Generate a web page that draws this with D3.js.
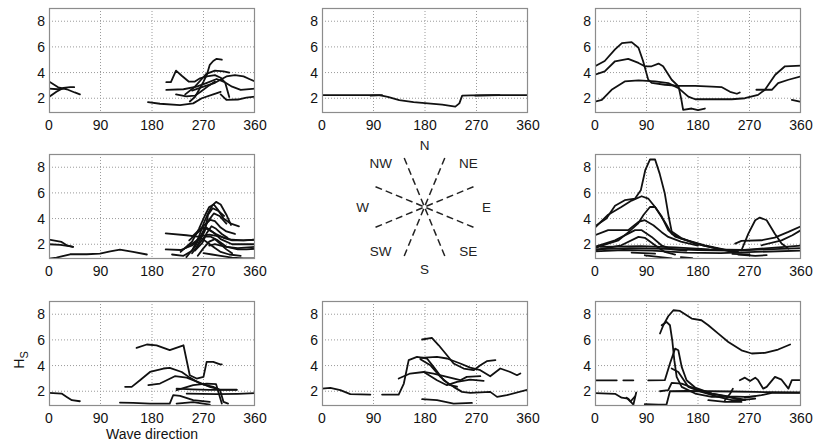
<!DOCTYPE html>
<html><head><meta charset="utf-8">
<script src="https://cdn.jsdelivr.net/npm/d3@7"></script>
<style>body{margin:0;background:#fff}svg{display:block}text{font-family:"Liberation Sans",Arial,Helvetica,sans-serif}</style>
</head><body><svg id="c" width="815" height="446"></svg>
<script>
const xTicks=[0,90,180,270,360];
const yTicks=[2,4,6,8];
const xDomain=[0,360];
const yDomain=[0.85,9.03];
const compassLabels=[["N",0],["NE",45],["E",90],["SE",135],["S",180],["SW",225],["W",270],["NW",315]];
const sectorBounds=[22.5,67.5,112.5,157.5];

const panelNW=[
 [[0,3.3],[16,2.85],[31,2.7],[45,2.45],[54,2.3]],
 [[0,2.1],[13,2.5],[25,2.8],[37,2.86],[44,2.86]],
 [[0,2.75],[15,2.7],[25,2.75]],
 [[205,3.25],[213,3.25],[222,4.15],[232,3.75],[244,3.3],[255,3.3],[264,3.55],[276,3.7],[290,3.8],[300,3.6],[308,3.2],[315,2.1]],
 [[246,1.75],[255,2.1],[264,2.8],[270,3.3],[276,3.85],[281,4.6],[287,4.9],[293,5.07],[302,5.0]],
 [[238,2.3],[255,2.9],[265,3.4],[275,3.9],[290,4.15],[305,4.1],[315,4.0]],
 [[250,2.6],[270,2.9],[290,3.2],[310,3.7],[325,3.8],[340,3.7],[350,3.5],[360,3.3]],
 [[205,2.65],[235,2.7],[258,2.9],[276,3.2],[293,3.5],[305,3.3],[320,2.9],[335,2.65],[360,2.75]],
 [[222,2.3],[240,2.15],[255,2.2],[265,2.5],[280,3.0],[290,3.3]],
 [[173,1.7],[194,1.57],[229,1.47],[252,1.6],[267,2.0],[287,2.3],[300,2.5]],
 [[300,2.3],[310,1.87],[330,1.9],[345,2.05],[360,2.13]]
];
const panelN=[
 [[0,2.25],[60,2.25],[100,2.25],[115,2.1],[135,1.85],[160,1.7],[180,1.62],[210,1.5],[233,1.35],[240,1.6],[245,2.2],[260,2.22],[300,2.25],[360,2.25]],
 [[85,2.2],[105,2.25]],
 [[268,2.2],[310,2.25]]
];
const panelNE=[
 [[0,4.5],[17,4.9],[35,5.8],[47,6.3],[64,6.37],[76,5.93],[84,4.9],[93,3.45],[99,3.2],[122,3.05],[146,2.97],[175,2.97],[204,2.9],[221,2.87],[236,2.5],[248,2.35],[253,2.45]],
 [[0,3.83],[17,4.1],[35,4.88],[58,5.07],[76,4.75],[87,4.49],[99,4.49],[111,4.7],[119,4.49],[134,3.44],[146,2.92],[151,1.87],[154,1.1],[169,1.2],[180,1.08],[192,1.2]],
 [[0,1.74],[12,1.87],[29,2.66],[52,3.31],[76,3.39],[105,3.31],[128,3.18],[146,2.79],[163,2.13],[175,1.92],[204,1.92],[239,1.92],[262,2.0],[285,2.26],[297,2.66],[315,3.83],[332,4.49],[360,4.54]],
 [[282,2.66],[309,2.66],[320,3.18],[338,3.44],[360,3.7]],
 [[344,1.87],[358,1.74]]
];
const panelW=[
 [[0,2.36],[22,2.18],[31,1.92],[42,1.8]],
 [[0,2.0],[20,1.95],[35,1.85],[42,1.8]],
 [[0,0.88],[13,0.96],[37,1.22],[66,1.22],[89,1.27],[107,1.45],[124,1.58],[147,1.4],[171,1.2]],
 [[204,2.85],[240,2.7],[260,2.6],[280,2.75],[300,2.6],[320,2.35],[340,2.3],[360,2.35]],
 [[204,1.6],[230,1.55],[250,1.9],[265,2.6],[275,3.3],[285,3.0],[300,2.4],[320,2.0],[360,2.0]],
 [[215,1.2],[235,1.1],[250,1.5],[262,2.6],[270,3.6],[278,4.4],[285,5.0],[292,5.3],[300,5.1],[310,4.3],[318,3.5]],
 [[230,1.4],[250,2.2],[262,3.2],[272,4.2],[280,4.9],[288,5.1],[295,4.7],[305,4.0],[318,3.6],[332,3.4]],
 [[240,1.0],[255,1.8],[268,2.9],[278,3.8],[288,4.4],[298,4.2],[310,3.6]],
 [[245,2.3],[260,2.9],[270,3.3],[280,3.1],[292,2.8],[305,2.5],[320,2.3],[340,2.3],[360,2.36]],
 [[250,1.3],[262,2.0],[272,2.6],[282,2.6],[295,2.3],[310,1.8],[330,1.7],[360,1.8]],
 [[235,1.6],[255,2.2],[265,2.5],[275,2.2],[290,1.7],[300,1.4],[315,1.2],[335,1.1]],
 [[260,1.1],[270,1.7],[280,2.2],[290,2.4],[300,2.0],[310,1.6],[320,1.3]],
 [[255,1.5],[268,2.1],[276,2.9],[284,3.4],[292,3.2],[302,2.8],[312,2.5]],
 [[250,2.6],[262,3.1],[274,3.6],[282,3.9],[290,3.8],[300,3.3],[310,3.0],[325,2.8]],
 [[270,1.3],[285,1.2],[300,1.1],[320,0.95],[340,0.9],[360,0.9]],
 [[280,1.9],[290,2.0],[300,1.9],[315,1.75],[330,1.6],[345,1.6],[360,1.65]],
 [[258,1.8],[266,2.5],[272,3.0],[278,4.3],[286,4.8],[296,4.6],[306,4.2]]
];
const panelE=[
 [[0,3.4],[20,4.0],[35,5.0],[52,5.43],[70,5.56],[80,6.2],[88,7.8],[96,8.6],[105,8.6],[113,7.5],[122,5.95],[129,4.1],[134,3.0],[150,2.5],[175,2.05],[200,1.8],[220,1.6],[240,1.4]],
 [[0,3.3],[23,4.3],[46,4.9],[64,5.4],[81.5,5.74],[93,5.56],[105,4.9],[122,3.74],[134,2.83],[151,2.44],[192,1.92],[233,1.53]],
 [[0,1.7],[20,2.0],[41,2.3],[60,3.0],[75,3.6],[85,4.3],[96,4.9],[105,4.9],[116,4.2],[128,3.1],[140,2.6],[160,2.3],[190,1.9],[220,1.6],[250,1.4]],
 [[0,2.7],[23,3.1],[58,3.1],[76,3.74],[87,3.87],[102,3.48],[116,2.96],[128,2.57],[150,2.2],[180,1.9]],
 [[0,1.8],[35,2.3],[70,3.1],[81,3.1],[99,2.57],[116,1.92],[135,1.6],[160,1.5]],
 [[0,1.53],[46,1.92],[76,2.57],[87,2.5],[105,1.92],[122,1.4],[140,1.2]],
 [[256,1.53],[268,2.83],[280,3.87],[288,4.08],[300,3.87],[314,2.83],[326,2.05],[338,1.66]],
 [[245,2.05],[256,2.26],[291,2.31],[314,2.52],[338,2.96],[360,3.4]],
 [[291,1.92],[326,2.3],[345,2.7],[360,3.1]],
 [[0,1.6],[60,1.7],[120,1.65],[180,1.55],[240,1.5],[300,1.6],[360,1.7]],
 [[0,1.45],[50,1.55],[100,1.5],[160,1.35],[220,1.3],[280,1.4],[360,1.5]],
 [[10,1.8],[80,1.85],[140,1.75],[200,1.6],[260,1.55],[320,1.75],[360,1.9]],
 [[64,1.35],[105,1.27]],
 [[87,1.14],[134,0.9]],
 [[150,1.0],[170,0.92]],
 [[250,1.2],[280,1.1],[300,1.15]],
 [[240,1.25],[270,1.2]]
];
const panelSW=[
 [[0,1.87],[22,1.82],[31,1.56],[40,1.3],[54,1.22]],
 [[153,5.38],[171,5.64],[188,5.58],[211,5.2],[235,5.58],[246,3.25],[258,2.99],[270,3.12],[275.5,4.29],[287,4.29],[299,4.1],[302,4.1]],
 [[133,2.34],[144.5,2.34],[159,2.86],[176.5,3.5],[200,3.77],[211,3.82],[232,3.5],[246,3.06],[264,2.6],[287,2.34],[299,2.08],[305,1.17],[313,1.04]],
 [[173.6,2.47],[194,2.6],[220,3.17],[240.6,3.06],[264,2.65],[281,2.34],[299,2.13],[328,2.13]],
 [[223,2.08],[252,2.47],[275.5,2.6],[292,2.55],[302,1.04]],
 [[223,2.2],[250,2.15],[280,2.1],[310,2.1],[328,2.1]],
 [[240.6,1.82],[293,1.77],[330,1.8],[360,1.85]],
 [[124,1.12],[147,1.09],[176.5,1.04],[211,1.04],[217,1.69],[229,1.64],[252,1.3],[281,1.17]],
 [[223,1.04],[252,1.15],[281,0.96]]
];
const panelS=[
 [[0,2.2],[14.6,2.26],[32,2.08],[49.5,1.77],[84.5,1.74]],
 [[105,1.74],[134,1.74],[143,2.6],[151.5,4.42],[166,4.68],[183.5,4.55],[195,3.9],[212.6,2.86],[230,2.34],[244.7,1.95],[259,1.87],[294,1.95],[306,1.56],[323,1.69],[360,2.13]],
 [[175,6.03],[192,6.16],[204,5.58],[218.4,4.8],[230,4.16],[247.6,3.77],[265,3.64],[276.7,4.03],[288,4.34],[303,4.42]],
 [[172,4.6],[201,4.68],[218.4,4.55],[241.7,4.16],[259,3.84],[276.7,3.64],[294,3.17],[311.6,3.77],[329,3.5],[340.8,3.25],[346.6,3.38]],
 [[134,2.99],[154,3.38],[177.7,3.5],[195,3.38],[218.4,3.12],[241.7,2.86],[253,3.12],[276.7,3.17]],
 [[178,3.5],[201,2.86],[218.4,2.47],[236,2.73],[259,2.9],[282.5,2.8]],
 [[172,4.5],[190,4.0],[207,3.12],[224,2.47],[236,2.35]],
 [[175,1.38],[201,1.3],[230,1.04],[262,1.09]]
];
const panelSE=[
 [[113.6,6.5],[119.4,7.14],[128,7.84],[137,8.31],[148.5,8.26],[169,7.66],[186,7.53],[198,7.14],[215.5,6.49],[233,5.84],[256,5.19],[274,4.94],[297,4.99],[320,5.25],[341,5.64]],
 [[116.5,7.14],[125,7.4],[131,7.14],[135,5.97],[138.6,4.42],[142.7,3.12],[151.5,2.34],[175,1.82],[204,1.56],[233,1.56],[256,1.3],[280,1.43]],
 [[93,2.85],[122,2.86],[131,4.16],[140,5.32],[145.6,5.19],[151.5,3.9],[160,2.86],[175,2.29],[204,1.82],[233,1.56],[262,1.35]],
 [[134,3.77],[145.6,3.5],[163,2.34],[186,1.95],[215.5,1.56],[239,1.3],[262,1.3]],
 [[113.6,2.0],[128,2.08],[134,2.65],[151.5,2.6],[175,2.2],[204,1.82],[233,1.6],[262,1.56],[280,1.6]],
 [[0,1.85],[35,1.8],[46.6,1.5],[58,1.43],[67,0.95],[72,1.9]],
 [[55,1.5],[62,1.2],[70,1.6]],
 [[87,0.99],[111,0.96],[125,0.96],[131,2.0],[160,2.02],[200,2.0],[240,1.98],[280,1.95],[310,1.92],[360,1.9]],
 [[0,2.85],[38,2.85]],
 [[49.5,2.85],[67,2.85]],
 [[253,2.86],[262,3.06],[271,2.8],[280,3.06],[285,2.86],[294,2.2],[300,2.34],[314.5,3.12],[326,2.9],[338,2.2],[344,2.86],[360,2.86]],
 [[227,1.3],[236,1.8],[241,2.2]],
 [[262,1.5],[291,1.69],[309,1.87],[360,1.87]],
 [[198,1.3],[227,1.17],[256,1.17]]
];

const colLeft=[49,322,595];
const rowTop=[8,154,301];
const plotW=206, plotH=105;
const panels=[
 {r:0,c:0,data:panelNW},{r:0,c:1,data:panelN},{r:0,c:2,data:panelNE},
 {r:1,c:0,data:panelW},{r:1,c:2,data:panelE},
 {r:2,c:0,data:panelSW},{r:2,c:1,data:panelS},{r:2,c:2,data:panelSE}
];

const svg=d3.select("#c");
const defs=svg.append("defs");
panels.forEach((p,i)=>{
  const x0=colLeft[p.c], y0=rowTop[p.r];
  const x=d3.scaleLinear().domain(xDomain).range([x0,x0+plotW]);
  const y=d3.scaleLinear().domain(yDomain).range([y0+plotH,y0]);
  defs.append("clipPath").attr("id","cp"+i).append("rect")
    .attr("x",x0).attr("y",y0).attr("width",plotW).attr("height",plotH);
  const g=svg.append("g");
  g.selectAll(".gx").data(xTicks.slice(1,-1)).enter().append("line")
    .attr("x1",d=>x(d)).attr("x2",d=>x(d)).attr("y1",y0).attr("y2",y0+plotH)
    .attr("stroke","#9a9a9a").attr("stroke-width",1).attr("stroke-dasharray","1,2");
  g.selectAll(".gy").data(yTicks).enter().append("line")
    .attr("x1",x0).attr("x2",x0+plotW).attr("y1",d=>y(d)).attr("y2",d=>y(d))
    .attr("stroke","#9a9a9a").attr("stroke-width",1).attr("stroke-dasharray","1,2");
  const line=d3.line().x(d=>x(d[0])).y(d=>y(d[1]));
  g.append("g").attr("clip-path","url(#cp"+i+")").selectAll("path").data(p.data).enter().append("path")
    .attr("d",line).attr("fill","none").attr("stroke","#111").attr("stroke-width",1.8)
    .attr("stroke-linejoin","round").attr("stroke-linecap","round");
  g.append("rect").attr("x",x0+0.5).attr("y",y0+0.5).attr("width",plotW-1).attr("height",plotH-1)
    .attr("fill","none").attr("stroke","#8c8c8c").attr("stroke-width",1.2);
  g.selectAll(".tx").data(xTicks).enter().append("text")
    .attr("x",d=>x(d)).attr("y",y0+plotH+17).attr("text-anchor","middle")
    .attr("font-size",14).attr("fill","#111").text(d=>d);
  g.selectAll(".ty").data(yTicks).enter().append("text")
    .attr("x",x0-4).attr("y",d=>y(d)).attr("dy","0.36em").attr("text-anchor","end")
    .attr("font-size",14).attr("fill","#111").text(d=>d);
});

svg.append("text").attr("x",152).attr("y",439).attr("text-anchor","middle")
  .attr("font-size",14).attr("fill","#111").text("Wave direction");
const hl=svg.append("text").attr("transform","translate(24,360) rotate(-90)")
  .attr("text-anchor","middle").attr("font-size",14).attr("fill","#111");
hl.append("tspan").text("H");
hl.append("tspan").attr("font-size",11).attr("dy",4).text("S");

const cx=424.5, cy=207, R=53, RL=62;
const ang=d3.scaleLinear().domain([0,360]).range([0,2*Math.PI]);
const cg=svg.append("g");
cg.selectAll("line").data(sectorBounds).enter().append("line")
  .attr("x1",d=>cx+R*Math.sin(ang(d))).attr("y1",d=>cy-R*Math.cos(ang(d)))
  .attr("x2",d=>cx-R*Math.sin(ang(d))).attr("y2",d=>cy+R*Math.cos(ang(d)))
  .attr("stroke","#222").attr("stroke-width",1.5).attr("stroke-dasharray","7,4");
cg.selectAll("text").data(compassLabels).enter().append("text")
  .attr("x",d=>cx+RL*Math.sin(ang(d[1]))).attr("y",d=>cy-RL*Math.cos(ang(d[1])))
  .attr("dy","0.36em").attr("text-anchor","middle").attr("font-size",13.5).attr("fill","#222")
  .text(d=>d[0]);
</script></body></html>
